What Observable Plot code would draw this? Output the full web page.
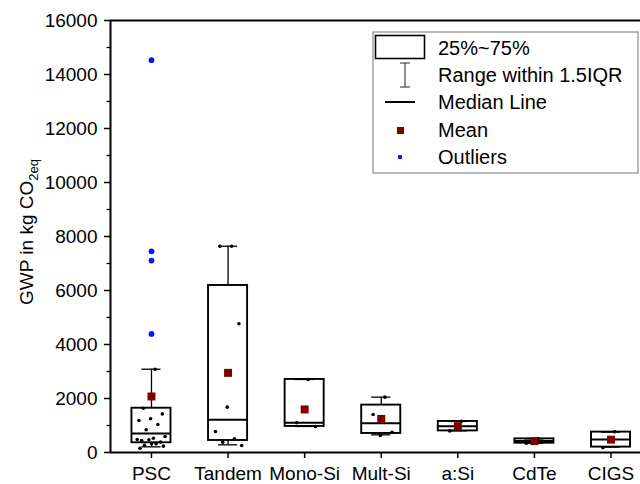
<!DOCTYPE html>
<html><head><meta charset="utf-8">
<script src="https://cdn.jsdelivr.net/npm/d3@7"></script>
<script src="https://cdn.jsdelivr.net/npm/@observablehq/plot@0.6"></script>
<style>
html,body{margin:0;padding:0;background:#fff;overflow:hidden}
svg{overflow:hidden;display:block}
</style></head><body><div id="chart"></div>
<script>
// ---- data ----
const categories = ["PSC", "Tandem", "Mono-Si", "Mult-Si", "a:Si", "CdTe", "CIGS"];
const q1          = [360, 445, 965, 705, 800, 345, 200];
const q3          = [1640, 6185, 2705, 1755, 1150, 505, 755];
const median      = [705, 1210, 1100, 1085, 975, 430, 480];
const mean        = [2075, 2950, 1595, 1245, 975, 420, 475];
const whiskerLow  = [210, 285, 965, 655, 800, 345, 200];
const whiskerHigh = [3085, 7640, 2705, 2050, 1150, 505, 755];

const pscPoints    = [3085, 1640, 1430, 1250, 1185, 1035, 840, 595, 530, 445, 385, 470, 480, 320, 270, 235, 320, 160];
const tandemPoints = [7640, 7640, 4770, 1680, 780, 510, 380, 260];
const monoPoints   = [2705, 1100, 965];
const multPoints   = [2050, 1410, 750, 630];
const aSiPoints    = [1160, 800];
const cdtePoints   = [520, 345];
const cigsPoints   = [765, 175];
const pscOutliers  = [14530, 7450, 7110, 4390];
const yTicks = [0, 2000, 4000, 6000, 8000, 10000, 12000, 14000, 16000];

const legendItems = ["25%~75%", "Range within 1.5IQR", "Median Line", "Mean", "Outliers"];

// ---- build tables ----
const boxes = categories.map((c, i) => ({i, c, q1: q1[i], q3: q3[i], med: median[i], mean: mean[i], lo: whiskerLow[i], hi: whiskerHigh[i]}));
const pointSets = [pscPoints, tandemPoints, monoPoints, multPoints, aSiPoints, cdtePoints, cigsPoints];
const points = pointSets.flatMap((arr, i) => arr.map((v, k) => ({i, k, y: v})));
const jitter = d => d.i + ((((d.k + 1) * 0.618034) % 1) - 0.5) * 0.4;
const outliers = pscOutliers.map(v => ({i: 0, y: v}));

const xDomain = [-0.535, 6.385];
const font = "'Liberation Sans', Arial, Helvetica, sans-serif";
const half = 0.255, cap = 0.125;

const chart = Plot.plot({
  width: 640, height: 484,
  marginLeft: 110, marginRight: 0, marginTop: 20, marginBottom: 32,
  style: {fontFamily: font, fontSize: "19px", color: "#000", background: "#fff"},
  x: {type: "linear", domain: xDomain},
  y: {domain: [0, 16000]},
  marks: [
    Plot.ruleX(boxes, {x: "i", y1: "lo", y2: "q1", stroke: "#000", strokeWidth: 1.3}),
    Plot.ruleX(boxes, {x: "i", y1: "q3", y2: "hi", stroke: "#000", strokeWidth: 1.3}),
    Plot.ruleY(boxes, {y: "hi", x1: d => d.i - cap, x2: d => d.i + cap, stroke: "#000", strokeWidth: 1.3}),
    Plot.ruleY(boxes, {y: "lo", x1: d => d.i - cap, x2: d => d.i + cap, stroke: "#000", strokeWidth: 1.3}),
    Plot.rect(boxes, {x1: d => d.i - half, x2: d => d.i + half, y1: "q1", y2: "q3", fill: "none", stroke: "#000", strokeWidth: 1.9}),
    Plot.ruleY(boxes, {y: "med", x1: d => d.i - half, x2: d => d.i + half, stroke: "#000", strokeWidth: 2}),
    Plot.dot(points, {x: jitter, y: "y", r: 1.8, fill: "#000", stroke: null}),
    Plot.dot(boxes, {x: "i", y: "mean", symbol: "square", r: 4.5, fill: "#800000", stroke: null}),
    Plot.dot(outliers, {x: "i", y: "y", r: 2.9, fill: "#0a14f0", stroke: null}),
    Plot.ruleX([xDomain[0]], {stroke: "#000", strokeWidth: 2}),
    Plot.ruleY([0], {stroke: "#000", strokeWidth: 2}),
    Plot.ruleY([16000], {stroke: "#000", strokeWidth: 2}),
    Plot.axisX({ticks: d3.range(categories.length), tickFormat: i => categories[i], tickSize: 6, tickPadding: 8, strokeWidth: 1.5, label: null, fontSize: 19}),
    Plot.axisY({ticks: yTicks, tickFormat: d3.format("d"), tickSize: 6, tickPadding: 7, strokeWidth: 1.5, label: null, fontSize: 19}),
    Plot.axisY({ticks: yTicks.slice(0, -1).map(t => t + 1000), tickFormat: () => "", tickSize: 3.5, strokeWidth: 1.3, label: null})
  ]
});
document.getElementById("chart").appendChild(chart);

// ---- y label with subscript ----
const svg = d3.select(chart);
const yl = svg.append("text")
  .attr("transform", "translate(33,232) rotate(-90)")
  .attr("text-anchor", "middle")
  .attr("font-family", font).attr("font-size", 19).attr("fill", "#000");
yl.append("tspan").text("GWP in kg CO");
yl.append("tspan").attr("font-size", 13).attr("dy", 5).text("2eq");

// ---- legend ----
const lg = svg.append("g").attr("font-family", font).attr("font-size", 20).attr("text-anchor", "start");
lg.append("rect").attr("x", 373).attr("y", 32).attr("width", 265).attr("height", 141)
  .attr("fill", "#fff").attr("stroke", "#8a8a8a").attr("stroke-width", 1.2);
lg.append("rect").attr("x", 375.5).attr("y", 35.5).attr("width", 49).attr("height", 23)
  .attr("fill", "none").attr("stroke", "#000").attr("stroke-width", 1.6);
lg.append("line").attr("x1", 405).attr("x2", 405).attr("y1", 63).attr("y2", 87).attr("stroke", "#222").attr("stroke-width", 1);
lg.append("line").attr("x1", 400).attr("x2", 410).attr("y1", 63).attr("y2", 63).attr("stroke", "#222").attr("stroke-width", 1);
lg.append("line").attr("x1", 400).attr("x2", 410).attr("y1", 87).attr("y2", 87).attr("stroke", "#222").attr("stroke-width", 1);
lg.append("line").attr("x1", 385).attr("x2", 415).attr("y1", 102).attr("y2", 102).attr("stroke", "#000").attr("stroke-width", 2);
lg.append("rect").attr("x", 397).attr("y", 127).attr("width", 7).attr("height", 7).attr("fill", "#800000");
lg.append("circle").attr("cx", 400).attr("cy", 157).attr("r", 2.2).attr("fill", "#0a14f0");
const rowsY = [48, 75, 102, 130, 157];
legendItems.forEach((t, k) => {
  lg.append("text").attr("x", 438).attr("y", rowsY[k]).attr("dy", "0.36em").attr("text-anchor", "start").attr("fill", "#000").text(t);
});
</script></body></html>
